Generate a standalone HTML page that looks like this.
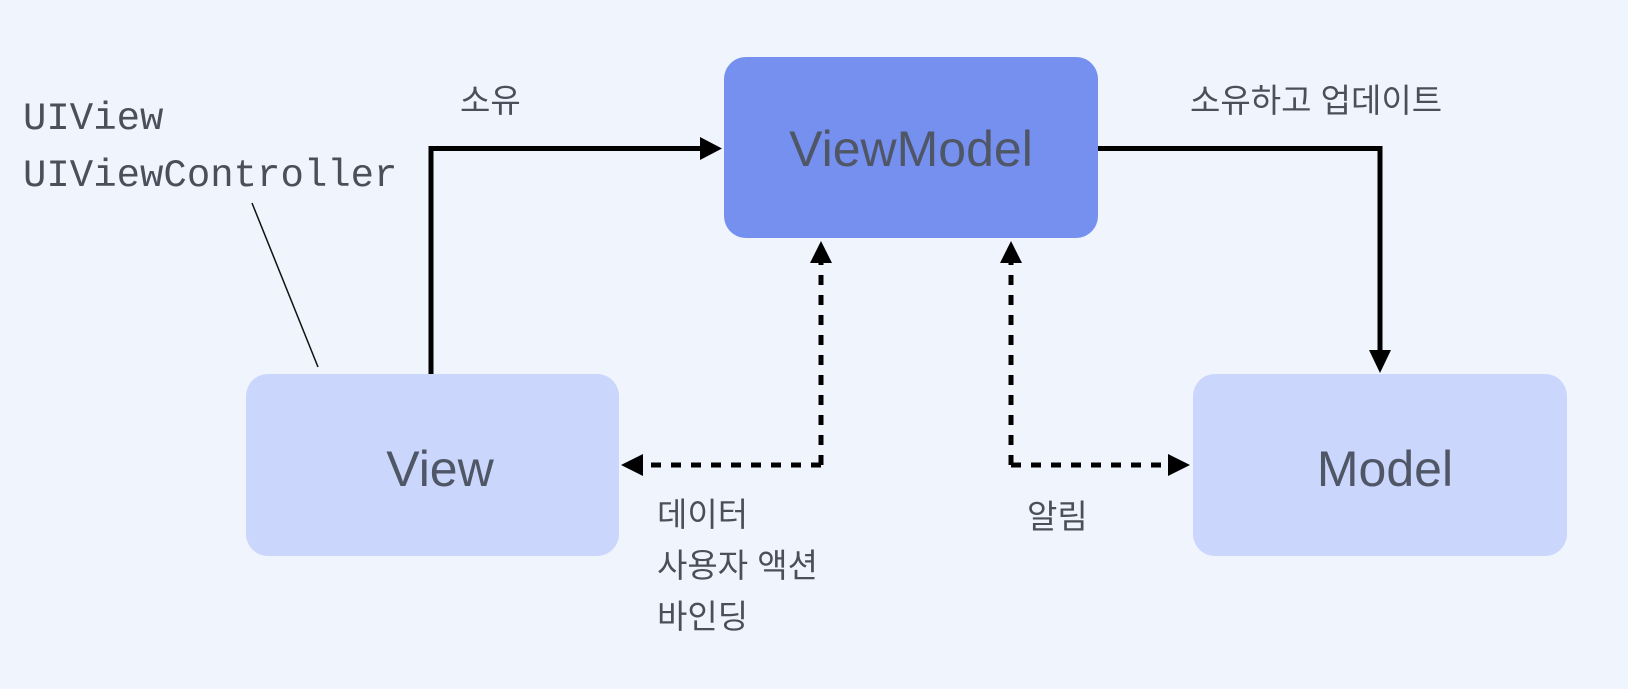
<!DOCTYPE html>
<html><head><meta charset="utf-8"><style>
html,body{margin:0;padding:0;background:#eff4fd;}
svg{display:block}
</style></head><body>
<svg width="1628" height="689" viewBox="0 0 1628 689" xmlns="http://www.w3.org/2000/svg">
<rect width="1628" height="689" fill="#eff4fd"/>
<rect x="724" y="57" width="374" height="181" rx="22" fill="#7690f0"/>
<rect x="246" y="374" width="373" height="182" rx="22" fill="#cad6fc"/>
<rect x="1193" y="374" width="374" height="182" rx="22" fill="#cad6fc"/>
<g font-family="Liberation Sans, sans-serif" font-size="50" fill="#4f5666" text-anchor="middle">
<text x="911" y="166">ViewModel</text>
<text x="440" y="486">View</text>
<text x="1385" y="486">Model</text>
</g>
<g font-family="Liberation Mono, monospace" font-size="39" fill="#4a4f5a">
<text x="23" y="129">UIView</text>
<text x="23" y="186">UIViewController</text>
</g>
<line x1="252" y1="203" x2="318" y2="367" stroke="#111" stroke-width="1.5"/>
<g stroke="#000" stroke-width="5" fill="none">
<polyline points="431,374 431,148.5 700,148.5"/>
<polyline points="1098,148.5 1380,148.5 1380,350"/>
</g>
<polygon points="722,148.5 700,137 700,160" fill="#000"/>
<polygon points="1380,373 1369,350 1391,350" fill="#000"/>
<g stroke="#000" stroke-width="5" fill="none" stroke-dasharray="10 10">
<polyline points="821,465 821,262"/>
<polyline points="821,465 643,465"/>
<polyline points="1011,465 1011,262"/>
<polyline points="1011,465 1168,465"/>
</g>
<polygon points="821,241 810,263 832,263" fill="#000"/>
<polygon points="1011,241 1000,263 1022,263" fill="#000"/>
<polygon points="621,465 643,454 643,476" fill="#000"/>
<polygon points="1190,465 1168,454 1168,476" fill="#000"/>
<g font-family="Liberation Sans, 'Noto Sans CJK KR', sans-serif" font-size="33" fill="#4a4f5a">
<text x="460" y="112">소유</text>
<text x="1190" y="112">소유하고 업데이트</text>
<text x="657" y="526">데이터</text>
<text x="657" y="577">사용자 액션</text>
<text x="657" y="628">바인딩</text>
<text x="1027" y="528">알림</text>
</g>
</svg>
</body></html>
